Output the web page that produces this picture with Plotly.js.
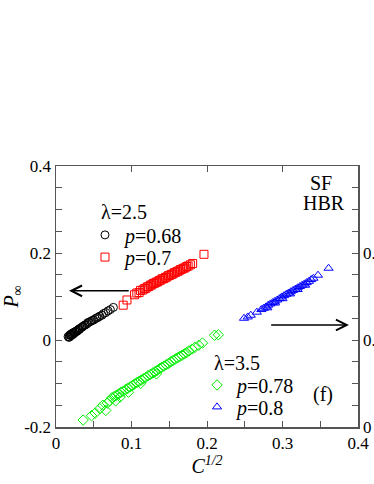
<!DOCTYPE html>
<html>
<head>
<meta charset="utf-8">
<script src="https://cdn.plot.ly/plotly-3.0.1.min.js"></script>
<style>
  html, body { margin: 0; padding: 0; overflow: hidden; background: #fff; }
  #chart { width: 374px; height: 484px; }
</style>
</head>
<body>
<div id="chart"></div>
<script>
// lambda = 2.5, p = 0.68 (open circles)
const blackX = [0.016, 0.017, 0.018, 0.018, 0.019, 0.020, 0.020, 0.021, 0.022, 0.022, 0.023, 0.024,
  0.025, 0.026, 0.027, 0.028, 0.029, 0.030, 0.031, 0.032, 0.034, 0.035, 0.036, 0.038, 0.039, 0.041,
  0.042, 0.044, 0.046, 0.048, 0.050, 0.052, 0.054, 0.056, 0.058, 0.061, 0.063, 0.066, 0.069, 0.072, 0.076];
const blackY = [0.008, 0.006, 0.011, 0.007, 0.012, 0.010, 0.014, 0.013, 0.016, 0.012, 0.017, 0.015,
  0.019, 0.018, 0.021, 0.020, 0.023, 0.025, 0.024, 0.027, 0.029, 0.030, 0.032, 0.034, 0.035, 0.037,
  0.040, 0.041, 0.043, 0.045, 0.046, 0.049, 0.051, 0.052, 0.055, 0.057, 0.061, 0.063, 0.067, 0.070, 0.075];

// lambda = 2.5, p = 0.7 (open squares)
const redX = [0.089, 0.094, 0.104, 0.107, 0.110, 0.112, 0.115, 0.117, 0.119, 0.121, 0.123, 0.125, 0.127,
  0.129, 0.131, 0.133, 0.135, 0.137, 0.139, 0.141, 0.143, 0.145, 0.147, 0.149, 0.151, 0.153, 0.155, 0.157,
  0.159, 0.161, 0.163, 0.165, 0.167, 0.169, 0.171, 0.173, 0.175, 0.178, 0.181, 0.196];
const redY = [0.080, 0.092, 0.104, 0.108, 0.109, 0.114, 0.115, 0.118, 0.119, 0.122, 0.123, 0.126, 0.127,
  0.130, 0.131, 0.133, 0.134, 0.137, 0.138, 0.141, 0.141, 0.144, 0.145, 0.148, 0.149, 0.151, 0.152, 0.155,
  0.156, 0.158, 0.159, 0.162, 0.163, 0.165, 0.166, 0.169, 0.170, 0.173, 0.176, 0.197];

// lambda = 3.5, p = 0.78 (open diamonds)
const greenX = [0.036, 0.047, 0.052, 0.058, 0.062, 0.066, 0.068, 0.071, 0.074, 0.077, 0.079, 0.080, 0.083,
  0.085, 0.086, 0.089, 0.092, 0.095, 0.096, 0.098, 0.101, 0.104, 0.107, 0.110, 0.112, 0.113, 0.116, 0.119,
  0.122, 0.125, 0.128, 0.131, 0.133, 0.134, 0.137, 0.140, 0.143, 0.146, 0.149, 0.152, 0.155, 0.158, 0.161,
  0.164, 0.167, 0.170, 0.173, 0.176, 0.180, 0.184, 0.189, 0.194, 0.210, 0.215];
const greenY = [-0.184, -0.174, -0.168, -0.158, -0.150, -0.162, -0.145, -0.140, -0.133, -0.130, -0.140, -0.127,
  -0.124, -0.131, -0.120, -0.118, -0.114, -0.111, -0.120, -0.108, -0.105, -0.101, -0.098, -0.095, -0.100,
  -0.092, -0.089, -0.086, -0.082, -0.079, -0.076, -0.073, -0.078, -0.070, -0.066, -0.063, -0.060, -0.057,
  -0.054, -0.050, -0.047, -0.044, -0.041, -0.038, -0.035, -0.032, -0.029, -0.025, -0.021, -0.017, -0.012,
  -0.007, 0.011, 0.012];

// lambda = 3.5, p = 0.8 (open triangles)
const blueX = [0.249, 0.254, 0.258, 0.266, 0.272, 0.275, 0.278, 0.280, 0.281, 0.284, 0.287, 0.290, 0.290,
  0.293, 0.296, 0.299, 0.300, 0.302, 0.305, 0.308, 0.310, 0.311, 0.314, 0.317, 0.320, 0.320, 0.323, 0.326,
  0.329, 0.330, 0.332, 0.335, 0.338, 0.341, 0.347, 0.361];
const blueY = [0.050, 0.053, 0.057, 0.064, 0.070, 0.073, 0.076, 0.074, 0.080, 0.083, 0.086, 0.089, 0.085,
  0.092, 0.095, 0.099, 0.095, 0.102, 0.105, 0.108, 0.106, 0.111, 0.114, 0.117, 0.120, 0.116, 0.123, 0.126,
  0.129, 0.126, 0.132, 0.135, 0.139, 0.142, 0.149, 0.165];

const leftTicks = [-0.2, -0.15, -0.1, -0.05, 0, 0.05, 0.1, 0.15, 0.2, 0.25, 0.3, 0.35, 0.4];
const leftTickText = ['-0.2', '', '', '', '0', '', '', '', '0.2', '', '', '', '0.4'];
const rightTickText = ['0', '', '', '', '0.05', '', '', '', '0.1', '', '', '', ''];
const xTicks = [0, 0.05, 0.1, 0.15, 0.2, 0.25, 0.3, 0.35, 0.4];
const xTickText = ['0', '', '0.1', '', '0.2', '', '0.3', '', '0.4'];

const FONT = '"Liberation Serif", "Times New Roman", Times, serif';
const AXIS = '#555';

function series(x, y, name, symbol, color, legend) {
  return {
    x: x, y: y, name: name, legend: legend,
    type: 'scatter', mode: 'markers',
    marker: { symbol: symbol, size: 8, color: color, line: { width: 1, color: color } }
  };
}

const traces = [
  series(blackX, blackY, '<i>p</i>=0.68', 'circle-open', '#000000', 'legend'),
  series(redX, redY, '<i>p</i>=0.7', 'square-open', '#ff0000', 'legend2'),
  series(greenX, greenY, '<i>p</i>=0.78', 'diamond-open', '#00ee00', 'legend3'),
  series(blueX, blueY, '<i>p</i>=0.8', 'triangle-up-open', '#0000ff', 'legend4'),
  // empty trace so the top and right frame axes get drawn
  { x: [], y: [], xaxis: 'x2', yaxis: 'y2', type: 'scatter', mode: 'markers', showlegend: false }
];

function leg(x, y) {
  return {
    x: x, y: y, xanchor: 'left', yanchor: 'middle',
    bgcolor: 'rgba(0,0,0,0)', borderwidth: 0, itemwidth: 30,
    font: { family: FONT, size: 20, color: '#000' }
  };
}

function note(x, y, text, anchor) {
  return {
    x: x, y: y, xref: 'x', yref: 'y', text: text, showarrow: false,
    xanchor: anchor || 'center', yanchor: 'middle',
    font: { family: FONT, size: 20, color: '#000' }
  };
}

function arrow(x0, x1, y) {
  return {
    x: x1, y: y, ax: x0, ay: y, xref: 'x', yref: 'y', axref: 'x', ayref: 'y',
    text: '', showarrow: true, arrowhead: 5, arrowsize: 1.4, arrowwidth: 1.5, arrowcolor: '#000'
  };
}

const layout = {
  width: 374, height: 484,
  margin: { l: 56, r: 16, t: 166, b: 57 },
  paper_bgcolor: '#fff', plot_bgcolor: '#fff',
  font: { family: FONT, size: 17, color: '#000' },
  showlegend: true,
  legend: leg(0.096, 0.736),
  legend2: leg(0.096, 0.651),
  legend3: leg(0.467, 0.161),
  legend4: leg(0.467, 0.077),
  xaxis: {
    range: [0, 0.4], tickmode: 'array', tickvals: xTicks, ticktext: xTickText,
    ticks: 'inside', ticklen: 6, tickcolor: AXIS, showline: true, linecolor: AXIS, linewidth: 1.5,
    showgrid: false, zeroline: false, tickfont: { family: FONT, size: 17 },
    title: { text: '<i>C</i><sup><i>1/2</i></sup>', font: { family: FONT, size: 20 }, standoff: 0 }
  },
  xaxis2: {
    overlaying: 'x', side: 'top', anchor: 'y', range: [0, 0.4], tickmode: 'array', tickvals: [0.1, 0.2, 0.3],
    ticks: 'inside', ticklen: 6, tickcolor: AXIS, showticklabels: false,
    showline: true, linecolor: AXIS, linewidth: 1.5, showgrid: false, zeroline: false
  },
  yaxis: {
    range: [-0.2, 0.4], tickmode: 'array', tickvals: leftTicks, ticktext: leftTickText,
    ticks: 'inside', ticklen: 6, tickcolor: AXIS, showline: true, linecolor: AXIS, linewidth: 1.5,
    showgrid: false, zeroline: false, tickfont: { family: FONT, size: 17 },
    title: { text: '<i>P</i><sub>∞</sub>', font: { family: FONT, size: 20 }, standoff: 4 }
  },
  yaxis2: {
    overlaying: 'y', side: 'right', anchor: 'x', range: [-0.2, 0.4], tickmode: 'array', tickvals: leftTicks,
    ticktext: rightTickText, ticks: 'inside', ticklen: 6, tickcolor: AXIS, tickfont: { family: FONT, size: 17 },
    showline: true, linecolor: AXIS, linewidth: 1.5, showgrid: false, zeroline: false
  },
  annotations: [
    note(0.057, 0.294, 'λ=2.5', 'left'),
    note(0.207, -0.053, 'λ=3.5', 'left'),
    note(0.353, -0.126, '(f)'),
    note(0.351, 0.361, 'SF'),
    note(0.355, 0.315, 'HBR'),
    arrow(0.0983, 0.0173, 0.113),
    arrow(0.283, 0.388, 0.0345)
  ]
};

Plotly.newPlot('chart', traces, layout, { staticPlot: true });
</script>
</body>
</html>
